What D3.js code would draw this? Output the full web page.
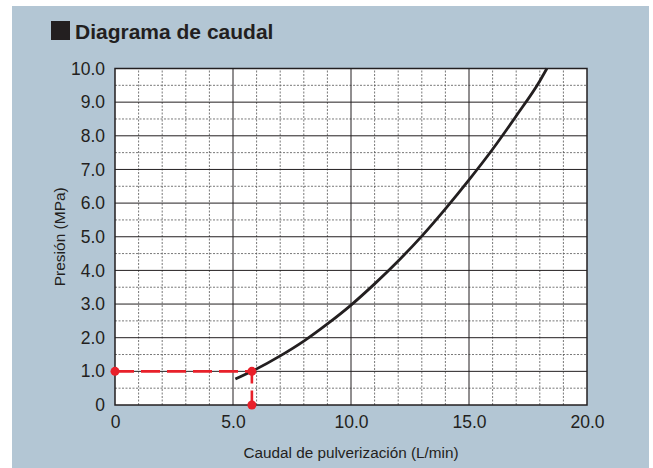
<!DOCTYPE html>
<html>
<head>
<meta charset="utf-8">
<script src="https://cdn.jsdelivr.net/npm/d3@7"></script>
<style>
  html, body { margin: 0; padding: 0; background: #ffffff; }
  svg { display: block; font-family: "Liberation Sans", Arial, sans-serif; }
</style>
</head>
<body>
<svg id="chart" width="653" height="468"></svg>
<script>
// Flow curve: spray flow (L/min) vs pressure (MPa)
const flow     = [5.1, 5.8, 7.0, 8.0, 9.0, 10.0, 11.0, 12.0, 13.0, 14.0, 15.0, 16.0, 17.0, 18.0, 18.3];
const pressure = [0.77, 1.0, 1.46, 1.9, 2.41, 2.97, 3.6, 4.28, 5.02, 5.83, 6.69, 7.6, 8.59, 9.63, 10.0];

// Example reading: 1.0 MPa gives about 5.8 L/min
const markFlow = [5.8];
const markPressure = [1.0];

const xTicks = [0, 5, 10, 15, 20];
const xTickLabels = ["0", "5.0", "10.0", "15.0", "20.0"];
const yTicks = [0, 1, 2, 3, 4, 5, 6, 7, 8, 9, 10];
const yTickLabels = ["0", "1.0", "2.0", "3.0", "4.0", "5.0", "6.0", "7.0", "8.0", "9.0", "10.0"];

const svg = d3.select("#chart");
const ink = "#231f20";

// Panel background
svg.append("rect").attr("x", 12).attr("y", 6).attr("width", 649 - 12).attr("height", 468 - 6)
  .attr("fill", "#b3c6d4");

const margin = { left: 115, top: 68.5, right: 653 - 587, bottom: 468 - 405 };
const W = 653 - margin.left - margin.right;
const H = 468 - margin.top - margin.bottom;

const x = d3.scaleLinear().domain([0, 20]).range([margin.left, margin.left + W]);
const y = d3.scaleLinear().domain([0, 10]).range([margin.top + H, margin.top]);

// Title
svg.append("rect").attr("x", 51).attr("y", 21).attr("width", 19).attr("height", 19).attr("fill", ink);
svg.append("text").attr("x", 75).attr("y", 38.5)
  .attr("font-size", 21).attr("font-weight", "bold").attr("fill", ink)
  .text("Diagrama de caudal");

// Plot background
svg.append("rect").attr("x", x(0)).attr("y", y(10)).attr("width", W).attr("height", H).attr("fill", "#ffffff");

const grid = svg.append("g");
// Minor (dashed) grid
d3.range(1, 20).filter(v => v % 5 !== 0).forEach(v => {
  grid.append("line").attr("x1", x(v)).attr("x2", x(v)).attr("y1", y(0)).attr("y2", y(10))
    .attr("stroke", "#555").attr("stroke-width", 0.8).attr("stroke-dasharray", "2,1.5");
});
d3.range(0.5, 10, 1).forEach(v => {
  grid.append("line").attr("x1", x(0)).attr("x2", x(20)).attr("y1", y(v)).attr("y2", y(v))
    .attr("stroke", "#555").attr("stroke-width", 0.8).attr("stroke-dasharray", "2,1.5");
});
// Major (solid) grid
[5, 10, 15].forEach(v => {
  grid.append("line").attr("x1", x(v)).attr("x2", x(v)).attr("y1", y(0)).attr("y2", y(10))
    .attr("stroke", ink).attr("stroke-width", 1);
});
d3.range(1, 10).forEach(v => {
  grid.append("line").attr("x1", x(0)).attr("x2", x(20)).attr("y1", y(v)).attr("y2", y(v))
    .attr("stroke", ink).attr("stroke-width", 1);
});

// Frame
svg.append("rect").attr("x", x(0)).attr("y", y(10)).attr("width", W).attr("height", H)
  .attr("fill", "none").attr("stroke", ink).attr("stroke-width", 1.5);

// Axes
const xAxis = svg.append("g").attr("transform", `translate(0,${y(0)})`)
  .call(d3.axisBottom(x).tickValues(xTicks).tickSize(0).tickPadding(11)
    .tickFormat((d, i) => xTickLabels[i]));
const yAxis = svg.append("g").attr("transform", `translate(${x(0)},0)`)
  .call(d3.axisLeft(y).tickValues(yTicks).tickSize(0).tickPadding(10)
    .tickFormat((d, i) => yTickLabels[i]));
[xAxis, yAxis].forEach(a => {
  a.select(".domain").remove();
  a.selectAll("text").attr("font-size", 17.5).attr("fill", ink)
    .attr("font-family", "'Liberation Sans', Arial, sans-serif");
});

// Axis titles
svg.append("text").attr("x", x(10)).attr("y", 458).attr("text-anchor", "middle")
  .attr("font-size", 15.3).attr("fill", ink).text("Caudal de pulverización (L/min)");
svg.append("text").attr("transform", `translate(65,${y(5)}) rotate(-90)`).attr("text-anchor", "middle")
  .attr("font-size", 15.5).attr("fill", ink).text("Presión (MPa)");

// Flow curve
const pts = flow.map((f, i) => [f, pressure[i]]);
svg.append("path").datum(pts)
  .attr("d", d3.line().x(d => x(d[0])).y(d => y(d[1])).curve(d3.curveMonotoneX))
  .attr("fill", "none").attr("stroke", ink).attr("stroke-width", 2.8);

// Reading guide
const red = "#e8202a";
const mf = markFlow[0], mp = markPressure[0];
svg.append("path")
  .attr("d", `M${x(0)},${y(mp)}H${x(mf)}V${y(0)}`)
  .attr("fill", "none").attr("stroke", red).attr("stroke-width", 2.6)
  .attr("stroke-dasharray", "19,7");
[[0, mp], [mf, mp], [mf, 0]].forEach(p => {
  svg.append("circle").attr("cx", x(p[0])).attr("cy", y(p[1])).attr("r", 4.5).attr("fill", red);
});
</script>
</body>
</html>
